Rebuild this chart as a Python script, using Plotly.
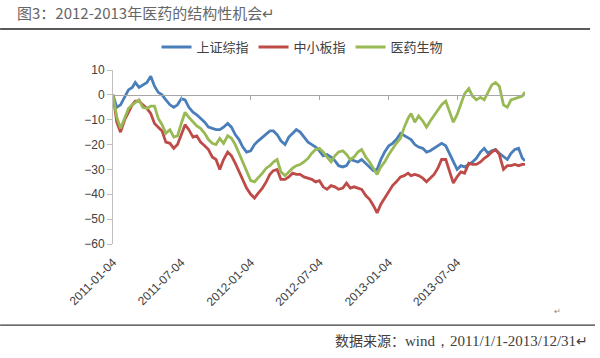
import plotly.graph_objects as go

# sampling dates (4th, 14th, 24th of each month) + last trading day
dates = [f"{y}-{m:02d}-{d:02d}" for y in (2011, 2012, 2013) for m in range(1, 13) for d in (4, 14, 24)] + ["2013-12-31"]

tick_dates = ["2011-01-04", "2011-07-04", "2012-01-04", "2012-07-04", "2013-01-04", "2013-07-04"]

series_names = ["上证综指", "中小板指", "医药生物"]

sh_index = [
    0, -5, -4, -1, 2, 3, 5, 3, 4, 5, 7.5, 3.5,
    1, 0, -2, -4, -5, -4, -1.5, -2, -5, -7, -8, -9.5,
    -11, -13, -13.5, -14, -14, -13, -11.5, -13, -16, -18, -21, -23,
    -22.5, -20, -18.5, -17, -16, -14.5, -14.5, -16, -18.5, -20, -17, -15.5,
    -14, -15, -17, -19, -20, -21, -22.5, -24.5, -24, -25, -26.5, -28.5,
    -29, -28.5, -26, -26.5, -27, -26, -27.5, -29, -30.5, -30, -26, -23,
    -20.5, -19.5, -18, -15.5, -16.5, -17.5, -18, -20, -21, -21.5, -23, -22.5,
    -21.5, -20.5, -19.5, -20.5, -23.5, -27, -30, -28.5, -29, -28, -27, -25.5,
    -23, -21.5, -23.5, -22.5, -22, -23.5, -25, -26, -23.5, -22, -21.5, -25.5,
    -26.5,
]

sme_index = [
    0, -11, -15, -10, -7, -4, -2.5, -2.5, -4, -5.5, -7.5, -11.5,
    -13, -14.5, -19, -19.5, -21.5, -20, -16, -12, -14, -17, -16.5, -19,
    -20.5, -22, -25, -26, -30, -26, -23, -24.5, -27.5, -31, -34, -37.5,
    -40, -41.5, -39.5, -37.5, -35, -32, -30.5, -30, -34, -34, -33, -31.5,
    -32, -32, -33, -33.5, -34, -35, -34.5, -37, -38, -36.5, -37, -38,
    -37.5, -35.5, -37.5, -37, -37.5, -38, -40.5, -42, -44.5, -47.5, -44, -41.5,
    -38.5, -36.5, -35, -33, -32.5, -31.5, -32.5, -32, -32.5, -33.5, -35, -33.5,
    -32, -29.5, -26, -26, -31, -35.5, -33, -31, -31.5, -27.5, -28, -28,
    -27, -25.5, -24.5, -23, -22, -24, -30, -28.5, -28.5, -28, -28.5, -28,
    -28,
]

pharma = [
    0, -9, -13.5, -9, -5.5, -4, -3, -2, -5, -5.5, -4.5, -4.5,
    -9.5, -12, -15.5, -14, -17, -16.5, -11.5, -7, -9, -11, -12.5, -13.5,
    -15.5, -18, -19.5, -20, -17.5, -19.5, -16.5, -17.5, -20, -23.5, -27, -30.5,
    -34.5, -35, -33.5, -31.5, -29.5, -28.5, -27, -26, -31, -32.5, -31, -29.5,
    -28.5, -28, -27, -25.5, -23.5, -22, -21.5, -23, -25, -27, -24.5, -23,
    -22.5, -24, -26, -25, -23, -22, -25, -27, -29.5, -32, -29, -27,
    -24, -21.5, -19.5, -17.5, -13, -9.5, -7.5, -11, -8.5, -10.5, -13, -10.5,
    -8.5, -6.5, -4, -2.5, -7, -11, -8, -3.5, 0.5, 2.5, -0.5, -2,
    -1, -2, 1, 4, 5, 3.5, -4, -5, -2, -1.5, -1, -0.5,
    1.2,
]

colors = ["#4A7EBB", "#BE4B48", "#98B954"]
values = [sh_index, sme_index, pharma]

CJK = "Noto Sans CJK SC"

fig = go.Figure()
for name, vals, col in zip(series_names, values, colors):
    fig.add_trace(go.Scatter(
        x=dates, y=vals, name=name, mode="lines",
        line=dict(color=col, width=2.8),
        hoverinfo="skip",
    ))
# empty trace so the label axis is drawn
fig.add_trace(go.Scatter(x=[], y=[], xaxis="x2", yaxis="y", showlegend=False, hoverinfo="skip"))

x_range = ["2011-01-04", "2013-12-31"]
y_min, y_max = -60, 10

fig.update_layout(
    width=600, height=358,
    margin=dict(l=113, r=75, t=70, b=114),
    paper_bgcolor="white", plot_bgcolor="white",
    showlegend=True,
    legend=dict(
        orientation="h", x=0.46, xanchor="center", y=1.132, yanchor="middle",
        font=dict(family=CJK, size=13, color="#404040"),
        itemwidth=30, bgcolor="rgba(0,0,0,0)", tracegroupgap=0,
    ),
    xaxis=dict(
        type="date", range=x_range, anchor="free",
        position=(0 - y_min) / (y_max - y_min),
        showline=True, linecolor="#a6a6a6", linewidth=1,
        ticks="outside", ticklen=4, tickcolor="#a6a6a6",
        tickvals=tick_dates, showticklabels=False,
        showgrid=False, zeroline=False, automargin=False,
    ),
    xaxis2=dict(
        type="date", range=x_range, overlaying="x", anchor="y", side="bottom",
        tickvals=tick_dates, ticktext=tick_dates, tickangle=-45,
        showline=False, ticks="", showgrid=False, zeroline=False,
        tickfont=dict(family="Liberation Sans", size=12, color="#404040"),
        ticklabelstandoff=8, automargin=False,
    ),
    yaxis=dict(
        range=[y_min, y_max], dtick=10, tick0=0,
        showline=True, linecolor="#bfbfbf", linewidth=1,
        ticks="outside", ticklen=5, tickcolor="#bfbfbf",
        showgrid=False, zeroline=False, automargin=False,
        tickfont=dict(family="Liberation Sans", size=12, color="#404040"),
    ),
    shapes=[
        dict(type="line", xref="paper", yref="paper", x0=-0.274, x1=1.158, y0=1.236, y1=1.236,
             line=dict(color="#5a5a5a", width=2)),
        dict(type="line", xref="paper", yref="paper", x0=-0.274, x1=1.17, y0=-0.466, y1=-0.466,
             line=dict(color="#3a3a3a", width=1.3)),
    ],
    annotations=[
        dict(text="图3：2012-2013年医药的结构性机会↵", xref="paper", yref="paper",
             x=-0.237, y=1.33, xanchor="left", yanchor="middle", showarrow=False,
             font=dict(family=CJK, size=15, color="#666666")),
        dict(text="数据来源：<span style='font-family:Liberation Serif;font-size:15px'>wind，2011/1/1-2013/12/31</span>↵",
             xref="paper", yref="paper",
             x=1.158, y=-0.552, xanchor="right", yanchor="middle", showarrow=False,
             font=dict(family=CJK, size=14, color="#404040")),
        dict(text="↵", xref="paper", yref="paper", x=1.078, y=-0.385,
             xanchor="center", yanchor="middle", showarrow=False,
             font=dict(family=CJK, size=8, color="#888888")),
    ],
)

fig.write_html("out.html", config={"displayModeBar": False},
               post_script="document.body.style.margin='0';")
